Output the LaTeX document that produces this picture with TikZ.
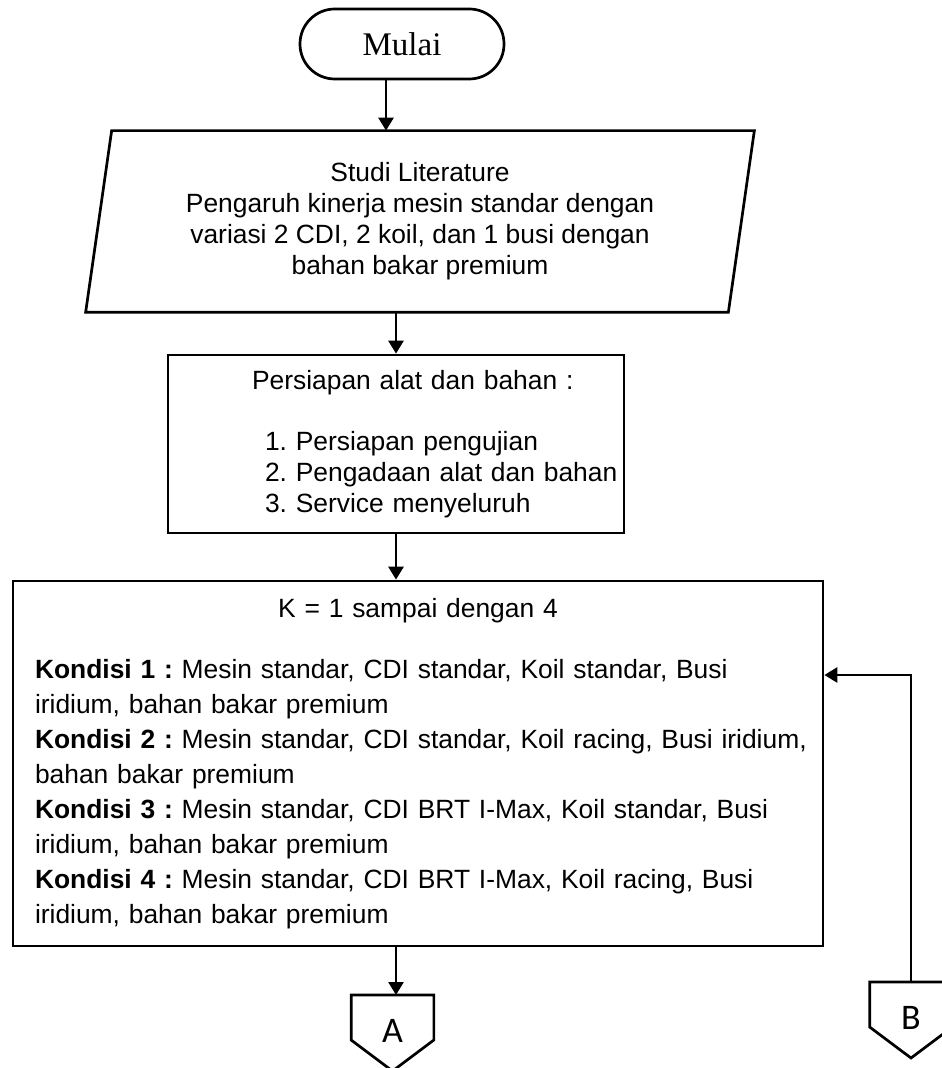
\documentclass[tikz,border=0pt]{standalone}
\usepackage{fontspec}
\setmainfont{Liberation Sans}
\newfontfamily\timesfont{Liberation Serif}
\newfontfamily\calibrifont{Carlito}
\usepackage{tikz}
\usetikzlibrary{shapes, arrows.meta, positioning, calc}
\frenchspacing

\begin{document}
\begin{tikzpicture}[x=0.5pt, y=-0.5pt, line width=1.35pt,
    flowbox/.style={draw, inner sep=0pt},
    flowarrow/.style={-{Triangle[length=6.5pt, width=7.5pt]}},
    connector/.style={anchor=north, minimum width=40pt, minimum height=35pt,
                      inner sep=0pt, font=\calibrifont\fontsize{18}{20}\selectfont}]
  \useasboundingbox (0,0) rectangle (941,1068);

  % terminal
  \node[draw, rounded corners=17.4pt, minimum width=102pt, minimum height=35pt,
        font=\timesfont\fontsize{16.5}{18}\selectfont] (mulai) at (402,44) {Mulai};

  % input: studi literature
  \node[minimum width=320pt, minimum height=89.5pt, align=center,
        font=\fontsize{13.2}{15.5}\selectfont] (studi) at (420,221.5) {%
    Studi Literature\\
    Pengaruh kinerja mesin standar dengan\\
    variasi 2 CDI, 2 koil, dan 1 busi dengan\\
    bahan bakar premium};
  \draw ([xshift=6.5pt]studi.north west) -- ([xshift=6.5pt]studi.north east)
    -- ([xshift=-6.5pt]studi.south east) -- ([xshift=-6.5pt]studi.south west) -- cycle;

  % persiapan
  \node[flowbox, minimum width=228pt, minimum height=89pt, text width=228pt, align=left,
        font=\fontsize{13.2}{15.5}\selectfont] (persiapan) at (396,444) {%
    \hspace*{42pt}Persiapan alat dan bahan :\\[15pt]
    \hspace*{48.5pt}1. Persiapan pengujian\\
    \hspace*{48.5pt}2. Pengadaan alat dan bahan\\
    \hspace*{48.5pt}3. Service menyeluruh};

  % kondisi
  \node[flowbox, minimum width=405pt, minimum height=182.5pt, text width=405pt, align=left,
        font=\fontsize{13.2}{17.5}\selectfont] (kondisi) at (418,763.5) {%
    \makebox[405pt]{K = 1 sampai dengan 4}\\[13pt]
    \hspace*{11pt}\textbf{Kondisi 1 :} Mesin standar, CDI standar, Koil standar, Busi\\
    \hspace*{11pt}iridium, bahan bakar premium\\
    \hspace*{11pt}\textbf{Kondisi 2 :} Mesin standar, CDI standar, Koil racing, Busi iridium,\\
    \hspace*{11pt}bahan bakar premium\\
    \hspace*{11pt}\textbf{Kondisi 3 :} Mesin standar, CDI BRT I-Max, Koil standar, Busi\\
    \hspace*{11pt}iridium, bahan bakar premium\\
    \hspace*{11pt}\textbf{Kondisi 4 :} Mesin standar, CDI BRT I-Max, Koil racing, Busi\\
    \hspace*{11pt}iridium, bahan bakar premium};

  % off-page connectors
  \node[connector] (conA) at (392.5,995) {A};
  \draw (conA.north west) -- (conA.north east) -- ++(0,45)
    -- ($(conA.north)+(0,76)$) -- ($(conA.north west)+(0,45)$) -- cycle;
  \node[connector] (conB) at (911,982) {B};
  \draw (conB.north west) -- (conB.north east) -- ++(0,45)
    -- ($(conB.north)+(0,76)$) -- ($(conB.north west)+(0,45)$) -- cycle;

  % arrows
  \coordinate (a1) at ([xshift=-8pt]mulai.south);
  \draw[flowarrow] (a1) -- (a1 |- studi.north);
  \draw[flowarrow] (persiapan.north |- studi.south) -- (persiapan.north);
  \draw[flowarrow] (persiapan.south) -- (persiapan.south |- kondisi.north);
  \draw[flowarrow] (persiapan.south |- kondisi.south) -- (persiapan.south |- conA.north);
  \coordinate (balik) at (911,675);
  \draw[flowarrow] (conB.north) -- (balik) -- (balik -| kondisi.east);
\end{tikzpicture}
\end{document}
